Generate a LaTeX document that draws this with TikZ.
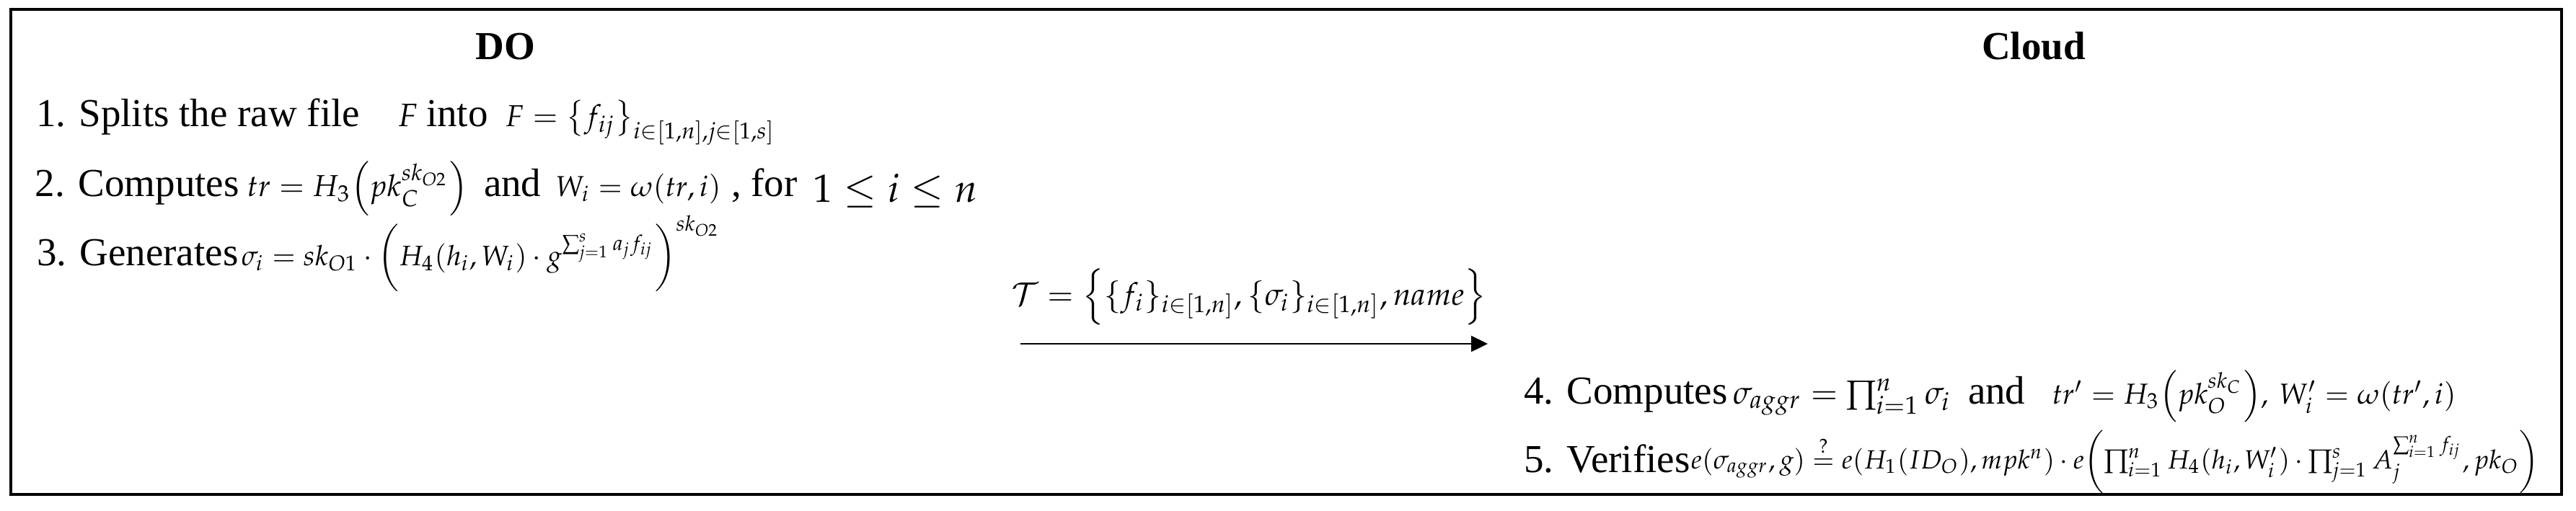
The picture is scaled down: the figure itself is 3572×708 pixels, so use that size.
\documentclass[tikz,border=0pt]{standalone}
\usepackage{amsmath}
\usepackage{mathpazo}
\usepackage[no-math]{fontspec}
\setmainfont{Liberation Serif}
\usetikzlibrary{arrows.meta}
\begin{document}
\begin{tikzpicture}[x=0.2pt,y=-0.2pt,
  txt/.style={anchor=base west,inner sep=0pt,font=\fontsize{11}{13}\selectfont},
  ttl/.style={anchor=base,inner sep=0pt,font=\fontsize{11}{13}\selectfont\bfseries},
  eq/.style={anchor=base west,inner sep=0pt,font=\fontsize{8}{10}\selectfont},
  eqsz/.style={font=\fontsize{#1}{#1}\selectfont},
  frame/.style={draw=black,line width=0.8pt},
  flow/.style={line width=0.45pt,-{Triangle[length=4.6pt,width=4.4pt]}}]
\useasboundingbox (0,0) rectangle (3572,708);
\draw[frame] (15,13) rectangle (3552,686);
\node[ttl] (do) at (701,82) {DO};
\node[ttl] (cloud) at (2820,82) {Cloud};
% step 1
\node[txt] (s1) at (49,175) {1. Splits the raw file};
\node[eq,eqsz=9] (s1F) at (551,175) {$F$};
\node[txt] (s1into) at (590,175) {into};
\node[eq,eqsz=8.4] (s1eq) at (700,175) {$F=\bigl\{f_{ij}\bigr\}_{i\in[1,n],j\in[1,s]}$};
% step 2
\node[txt] (s2) at (48,272) {2. Computes};
\node[eq,eqsz=8.4] (s2tr) at (342,272) {$tr=H_3\Bigl(pk_C^{sk_{O2}}\Bigr)$};
\node[txt] (s2and) at (670,272) {and};
\node[eq] (s2W) at (770,272) {$W_i=\omega(tr,i)$};
\node[txt] (s2for) at (1013,272) {, for};
\node[txt] (s2rng) at (1126,280) {$1\leq i\leq n$};
% step 3
\node[txt] (s3) at (50,368) {3. Generates};
\node[eq,eqsz=7.8] (s3eq) at (334,368) {$\sigma_i=sk_{O1}\cdot\biggl(H_4(h_i,W_i)\cdot g^{\sum_{j=1}^{s}a_jf_{ij}}\biggr)^{sk_{O2}}$};
% message
\node[eq,eqsz=8.7] (tlabel) at (1402,423) {$\mathcal{T}=\Bigl\{\{f_i\}_{i\in[1,n]},\{\sigma_i\}_{i\in[1,n]},name\Bigr\}$};
\coordinate (as) at (1415,477);
\coordinate (ae) at (2063,477);
\draw[flow] (as) -- (ae);
% step 4
\node[txt] (s4) at (2112,560) {4. Computes};
\node[eq,eqsz=9] (s4sig) at (2402,560) {$\sigma_{aggr}=\prod_{i=1}^{n}\sigma_i$};
\node[txt] (s4and) at (2728,560) {and};
\node[eq] (s4tr) at (2845,560) {$tr'=H_3\Bigl(pk_O^{sk_C}\Bigr),$};
\node[eq] (s4W) at (3160,560) {$W_i'=\omega(tr',i)$};
% step 5
\node[txt] (s5) at (2112,655) {5. Verifies};
\node[eq,eqsz=7.3] (s5eq) at (2344,650) {$e(\sigma_{aggr},g)\overset{?}{=}e(H_1(ID_O),mpk^n)\cdot e\biggl(\prod_{i=1}^{n}H_4(h_i,W_i')\cdot\prod_{j=1}^{s}A_j^{\sum_{i=1}^{n}f_{ij}},pk_O\biggr)$};
\end{tikzpicture}
\end{document}
